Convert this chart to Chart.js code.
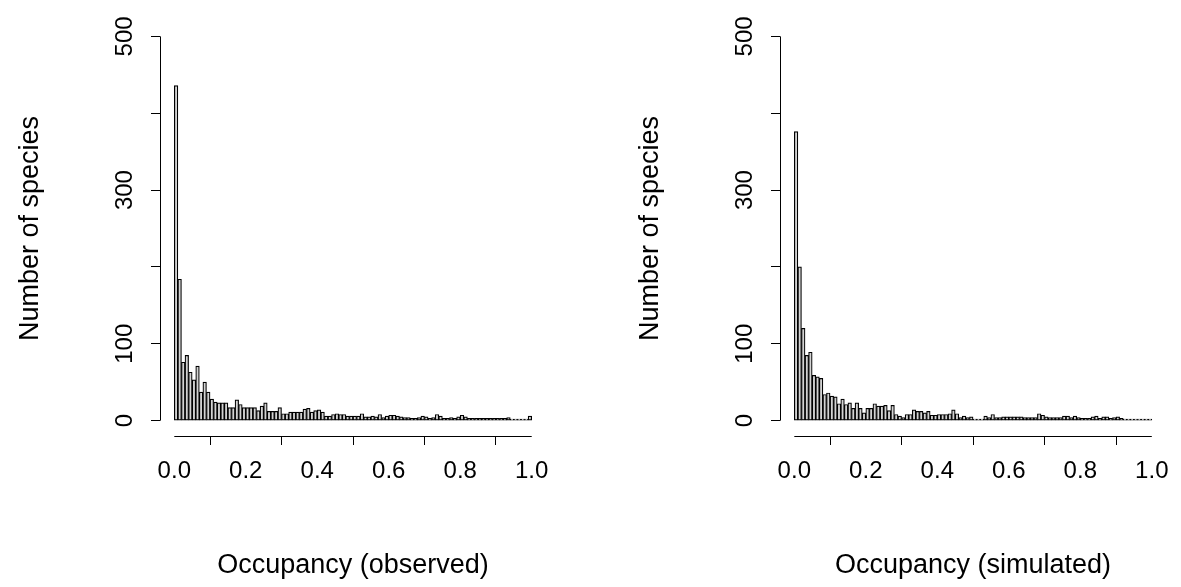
<!DOCTYPE html>
<html>
<head>
<meta charset="utf-8">
<script src="https://cdn.jsdelivr.net/npm/chart.js@4.4.0/dist/chart.umd.min.js"></script>
<style>
html, body { margin: 0; padding: 0; background: #fff; }
#wrap { position: relative; width: 1181px; height: 587px; }
#left { position: absolute; left: 0; top: 0; width: 620px; height: 587px; }
#right { position: absolute; left: 620px; top: 0; width: 561px; height: 587px; }
</style>
</head>
<body>
<div id="wrap">
  <div id="left"><canvas id="chart_observed"></canvas></div>
  <div id="right"><canvas id="chart_simulated"></canvas></div>
</div>
<script>
// counts per occupancy bin (100 bins of width 0.01, from 0 to 1)
var observedCounts = [
  436, 184, 76, 85, 63, 53, 71, 37, 50, 37, 28, 24, 23,
  23, 23, 17, 17, 27, 21, 17, 17, 17, 17, 13, 19, 23, 12, 12, 12, 17, 9, 9,
  11, 11, 11, 11, 15, 16, 11, 13, 14, 11, 6, 6, 8, 9, 8, 8, 6, 6, 6, 6, 9, 5, 5, 6, 5, 8, 4, 6, 7, 7, 6, 5,
  4, 4, 3, 3, 4, 6, 5, 3, 4, 8, 6, 3, 3, 4, 3, 5, 7, 5, 3, 3, 3, 3, 3, 3, 3, 3, 3, 3, 3, 4, 2, 2, 2, 2, 2, 6
];
var simulatedCounts = [
  376, 200, 120, 85, 89, 59, 57, 55, 34, 36, 32, 31, 22,
  28, 21, 23, 16, 23, 16, 10, 16, 16, 22, 19, 19, 20, 13, 20, 8, 6, 4, 8,
  8, 14, 12, 12, 10, 12, 7, 7, 8, 8, 8, 9, 14, 9, 4, 6, 4, 5, 2, 2, 2, 6, 4, 8, 4, 4, 5, 5, 5, 5, 5, 5,
  4, 4, 4, 4, 9, 7, 5, 4, 4, 4, 4, 6, 6, 4, 6, 4, 3, 3, 3, 5, 6, 3, 5, 5, 3, 4, 5, 3, 2, 2, 2, 2, 2, 2, 2, 2
];
var xTicks = [0, 0.2, 0.4, 0.6, 0.8, 1.0];
var yTicks = [0, 100, 200, 300, 400, 500];
var yTickLabels = ['0', '100', '', '300', '', '500'];
var yTitle = 'Number of species';

Chart.defaults.font.family = "'Liberation Sans', Arial, sans-serif";
Chart.defaults.font.size = 24;
Chart.defaults.color = '#000';

// R draws the axis line only between the first and last tick
var rAxisLines = {
  id: 'rAxisLines',
  afterDraw: function (chart) {
    var ctx = chart.ctx;
    var xs = chart.scales.x, ys = chart.scales.y;
    var yb = Math.round(chart.chartArea.bottom) + 0.5;
    var xl = Math.round(chart.chartArea.left) + 0.5;
    ctx.save();
    ctx.strokeStyle = '#000';
    ctx.lineWidth = 1;
    ctx.beginPath();
    ctx.moveTo(xs.getPixelForValue(xTicks[0]), yb);
    ctx.lineTo(xs.getPixelForValue(xTicks[xTicks.length - 1]), yb);
    ctx.moveTo(xl, ys.getPixelForValue(yTicks[0]));
    ctx.lineTo(xl, ys.getPixelForValue(yTicks[yTicks.length - 1]));
    ctx.stroke();
    ctx.restore();
  }
};

function histChart(id, counts, xTitle, padRight) {
  return new Chart(document.getElementById(id), {
    type: 'bar',
    data: {
      datasets: [{
        data: counts.map(function (c, i) { return { x: (i + 0.5) / counts.length, y: c }; }),
        backgroundColor: '#d3d3d3',
        borderColor: '#000',
        borderWidth: 1.2,
        borderSkipped: false,
        barPercentage: 1,
        categoryPercentage: 1
      }]
    },
    options: {
      animation: false,
      responsive: true,
      maintainAspectRatio: false,
      layout: { padding: { left: 0, top: 21, right: padRight, bottom: 0 } },
      plugins: { legend: { display: false }, tooltip: { enabled: false } },
      scales: {
        x: {
          type: 'linear',
          min: -0.04,
          max: 1.04,
          offset: false,
          border: { display: false },
          grid: { drawOnChartArea: false, drawTicks: true, tickLength: 9, color: '#000', lineWidth: 1 },
          afterBuildTicks: function (scale) { scale.ticks = xTicks.map(function (v) { return { value: v }; }); },
          afterFit: function (scale) { scale.height = 151; },
          ticks: {
            autoSkip: false,
            maxRotation: 0,
            padding: 12,
            callback: function (v) { return Number(v).toFixed(1); }
          },
          title: { display: true, text: xTitle, font: { size: 27 }, padding: { top: 0, bottom: 5 } }
        },
        y: {
          min: -20,
          max: 520,
          border: { display: false },
          grid: { drawOnChartArea: false, drawTicks: true, tickLength: 9, color: '#000', lineWidth: 1 },
          afterBuildTicks: function (scale) { scale.ticks = yTicks.map(function (v) { return { value: v }; }); },
          afterFit: function (scale) { scale.width = 160; },
          ticks: {
            autoSkip: false,
            minRotation: 90,
            maxRotation: 90,
            crossAlign: 'center',
            padding: 6,
            callback: function (v, i) { return yTickLabels[i]; }
          },
          title: { display: true, text: yTitle, font: { size: 27 }, padding: { top: 14, bottom: 0 } }
        }
      }
    },
    plugins: [rAxisLines]
  });
}

var chart_observed = histChart('chart_observed', observedCounts, 'Occupancy (observed)', 74);
var chart_simulated = histChart('chart_simulated', simulatedCounts, 'Occupancy (simulated)', 14);
</script>
</body>
</html>
